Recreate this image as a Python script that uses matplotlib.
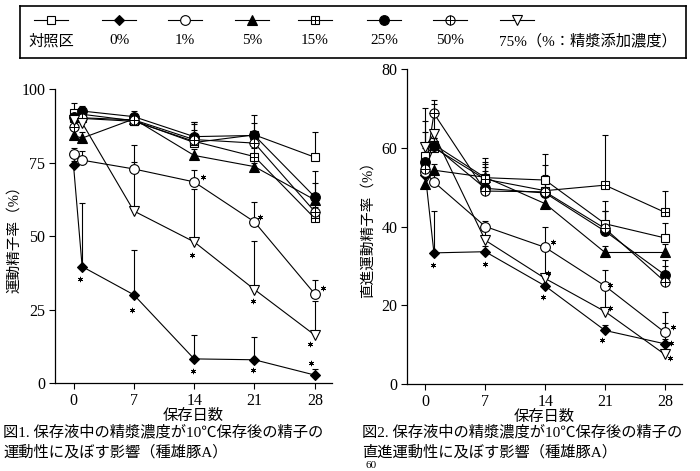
import numpy as np
import matplotlib
matplotlib.use("Agg")
import matplotlib.pyplot as plt

plt.rcParams['font.family'] = ['Liberation Serif', 'Noto Sans CJK JP', 'DejaVu Sans']

# ---------------- data ----------------
days = [0, 1, 7, 14, 21, 28]
series_keys = ['ctrl', 'p0', 'p1', 'p5', 'p15', 'p25', 'p50', 'p75']
legend_labels = ['対照区', '0%', '1%', '5%', '15%', '25%', '50%', '75%（%：精漿添加濃度）']

# Fig.1 motility (%)
mot_ctrl = [92.0, 91.4, 89.2, 81.8, 84.4, 76.8]
mot_p0 = [74.0, 39.6, 30.0, 8.2, 7.9, 2.7]
mot_p1 = [78.0, 75.8, 72.8, 68.4, 54.8, 30.3]
mot_p5 = [84.2, 83.3, 89.8, 77.4, 73.6, 62.3]
mot_p15 = [90.0, 90.0, 89.0, 82.2, 77.0, 56.0]
mot_p25 = [90.5, 92.5, 90.6, 83.8, 84.2, 63.3]
mot_p50 = [87.0, 90.2, 89.5, 82.8, 81.6, 58.3]
mot_p75 = [89.5, 88.5, 58.5, 48.0, 31.8, 16.3]
# upper ends of error bars
mot_ctrl_top = [95.3, 93.5, 91.5, 88.7, 91.0, 85.3]
mot_p0_top = [75.5, 61.3, 45.4, 16.3, 15.5, 4.6]
mot_p1_top = [80.0, 79.0, 80.8, 72.4, 61.6, 35.0]
mot_p5_top = [86.0, 85.5, 91.0, 79.5, 75.0, 68.0]
mot_p15_top = [92.0, 92.5, 91.0, 86.0, 80.0, 60.0]
mot_p25_top = [93.0, 94.3, 92.5, 88.7, 88.3, 72.0]
mot_p50_top = [89.0, 93.0, 91.5, 88.0, 84.0, 63.0]
mot_p75_top = [91.0, 90.0, 75.3, 66.0, 48.3, 28.0]
mot_star_x = [0.7, 6.8, 13.9, 20.85, 27.6, 15.0, 21.7, 28.9, 13.8, 20.85, 27.4]
mot_star_y = [35.3, 24.7, 4.0, 4.5, 6.8, 70.2, 56.3, 32.3, 43.4, 28.0, 13.4]

# Fig.2 progressive motility (%)
prog_ctrl = [58.0, 60.8, 52.4, 51.8, 40.7, 37.1]
prog_p0 = [53.0, 33.3, 33.6, 24.9, 13.6, 10.2]
prog_p1 = [53.8, 51.3, 40.0, 34.7, 24.9, 13.1]
prog_p5 = [50.8, 54.3, 52.5, 45.8, 33.4, 33.4]
prog_p15 = [55.0, 60.0, 52.0, 49.1, 50.5, 43.6]
prog_p25 = [56.5, 60.5, 49.7, 48.5, 38.8, 27.7]
prog_p50 = [54.5, 68.7, 49.0, 48.8, 39.5, 26.0]
prog_p75 = [60.3, 63.5, 36.5, 26.8, 18.4, 7.5]
prog_ctrl_top = [66.8, 64.0, 57.3, 58.4, 46.5, 40.8]
prog_p0_top = [57.0, 43.9, 35.0, 27.0, 15.0, 11.5]
prog_p1_top = [56.0, 53.0, 41.5, 40.0, 29.0, 18.2]
prog_p5_top = [53.0, 56.0, 54.0, 48.0, 35.0, 35.5]
prog_p15_top = [64.1, 62.5, 56.5, 55.5, 63.2, 48.9]
prog_p25_top = [59.0, 62.5, 55.0, 53.0, 44.0, 31.5]
prog_p50_top = [60.0, 72.1, 56.0, 51.0, 44.0, 30.0]
prog_p75_top = [70.2, 71.2, 40.0, 34.0, 25.0, 15.5]
prog_star_x = [0.93, 7.0, 14.9, 14.35, 13.8, 21.6, 21.6, 20.7, 29.0, 28.7, 28.6]
prog_star_y = [30.2, 30.4, 36.1, 28.1, 22.0, 25.1, 19.2, 11.2, 14.4, 10.3, 6.5]

mot = dict(ctrl=mot_ctrl, p0=mot_p0, p1=mot_p1, p5=mot_p5, p15=mot_p15,
           p25=mot_p25, p50=mot_p50, p75=mot_p75)
mot_top = dict(ctrl=mot_ctrl_top, p0=mot_p0_top, p1=mot_p1_top, p5=mot_p5_top,
               p15=mot_p15_top, p25=mot_p25_top, p50=mot_p50_top, p75=mot_p75_top)
prog = dict(ctrl=prog_ctrl, p0=prog_p0, p1=prog_p1, p5=prog_p5, p15=prog_p15,
            p25=prog_p25, p50=prog_p50, p75=prog_p75)
prog_top = dict(ctrl=prog_ctrl_top, p0=prog_p0_top, p1=prog_p1_top, p5=prog_p5_top,
                p15=prog_p15_top, p25=prog_p25_top, p50=prog_p50_top, p75=prog_p75_top)

# ---------------- styles ----------------
LW = 0.8
STYLE = {
    'ctrl': dict(marker='s', ms=6.2, mfc='white', plus=False),
    'p0':   dict(marker='D', ms=4.6, mfc='black', plus=False),
    'p1':   dict(marker='o', ms=7.0, mfc='white', plus=False),
    'p5':   dict(marker='^', ms=7.0, mfc='black', plus=False),
    'p15':  dict(marker='s', ms=6.2, mfc='white', plus=True),
    'p25':  dict(marker='o', ms=7.0, mfc='black', plus=False),
    'p50':  dict(marker='o', ms=6.6, mfc='white', plus=True),
    'p75':  dict(marker='v', ms=7.0, mfc='white', plus=False),
}


def draw_marker(ax, x, y, key, z=4):
    st = STYLE[key]
    ax.plot(x, y, ls='none', marker=st['marker'], ms=st['ms'], mfc=st['mfc'],
            mec='black', mew=LW, zorder=z)
    if st['plus']:
        ax.plot(x, y, ls='none', marker='+', ms=st['ms'], mec='black',
                mew=LW * 0.9, zorder=z + 0.1)


def draw_panel(ax, data, tops, ylim, yticks, star_x, star_y):
    for key in series_keys:
        y = np.array(data[key])
        t = np.maximum(np.array(tops[key]), y)
        ax.vlines(days, y, t, colors='black', lw=LW, zorder=2)
        ax.plot(days, t, ls='none', marker='_', ms=5, mew=LW, color='black', zorder=2)
    for key in series_keys:
        ax.plot(days, data[key], color='black', lw=LW, zorder=3)
    for i, key in enumerate(series_keys):
        draw_marker(ax, days, data[key], key, z=4 + i * 0.2)
    ax.plot(star_x, star_y, ls='none', marker=(6, 2, 0), ms=3.8, mew=0.6,
            color='black', zorder=6)
    ax.set_xlim(-2.15, 30.0)
    ax.set_ylim(*ylim)
    ax.set_xticks([0, 7, 14, 21, 28])
    ax.set_yticks(yticks)
    for s in ['top', 'right']:
        ax.spines[s].set_visible(False)
    for s in ['left', 'bottom']:
        ax.spines[s].set_linewidth(0.9)
    ax.tick_params(direction='out', length=4, width=0.8, labelsize=11.5, pad=3)
    ax.set_xlabel('保存日数', fontsize=11, labelpad=0)


fig = plt.figure(figsize=(7.0, 4.71), dpi=100)

axL = fig.add_axes([55 / 700, 1 - 383 / 471, (332 - 55) / 700, (383 - 89) / 471])
draw_panel(axL, mot, mot_top, (0, 100), [0, 25, 50, 75, 100], mot_star_x, mot_star_y)
axL.set_ylabel('運動精子率（%）', fontsize=10.5, va='center')
axL.yaxis.set_label_coords((14 - 55) / 277, 0.5)

axR = fig.add_axes([407 / 700, 1 - 384 / 471, (682 - 407) / 700, (384 - 69) / 471])
draw_panel(axR, prog, prog_top, (0, 80), [0, 20, 40, 60, 80], prog_star_x, prog_star_y)
axR.set_ylabel('直進運動精子率（%）', fontsize=10.5, va='center')
axR.yaxis.set_label_coords((368 - 407) / 275, 0.5)

# ---------------- legend box ----------------
legax = fig.add_axes([20 / 700, 1 - 58 / 471, (686 - 20) / 700, (58 - 6) / 471])
legax.set_xlim(20, 686)
legax.set_ylim(58, 6)
legax.set_xticks([])
legax.set_yticks([])
for s in legax.spines.values():
    s.set_linewidth(1.2)
leg_x = [51, 119, 185, 252, 315, 384, 450, 517]
for i, key in enumerate(series_keys):
    cx = leg_x[i]
    legax.plot([cx - 17, cx + 17], [20, 20], color='black', lw=LW)
    draw_marker(legax, [cx], [20], key)
    if i < len(series_keys) - 1:
        legax.text(cx, 41, legend_labels[i], ha='center', va='center', fontsize=11)
    else:
        legax.text(cx - 18, 41, legend_labels[i], ha='left', va='center', fontsize=11)

# ---------------- captions ----------------
fig.text(3 / 700, 1 - 432 / 471, '図1. 保存液中の精漿濃度が10℃保存後の精子の',
         ha='left', va='center', fontsize=11)
fig.text(3 / 700, 1 - 452 / 471, '運動性に及ぼす影響（種雄豚A）',
         ha='left', va='center', fontsize=11)
fig.text(362 / 700, 1 - 432 / 471, '図2. 保存液中の精漿濃度が10℃保存後の精子の',
         ha='left', va='center', fontsize=11)
fig.text(362 / 700, 1 - 452 / 471, '直進運動性に及ぼす影響（種雄豚A）',
         ha='left', va='center', fontsize=11)
fig.text(365 / 700, 1 / 471, '60', ha='left', va='bottom', fontsize=8)

fig.savefig('out.png', dpi=100)
